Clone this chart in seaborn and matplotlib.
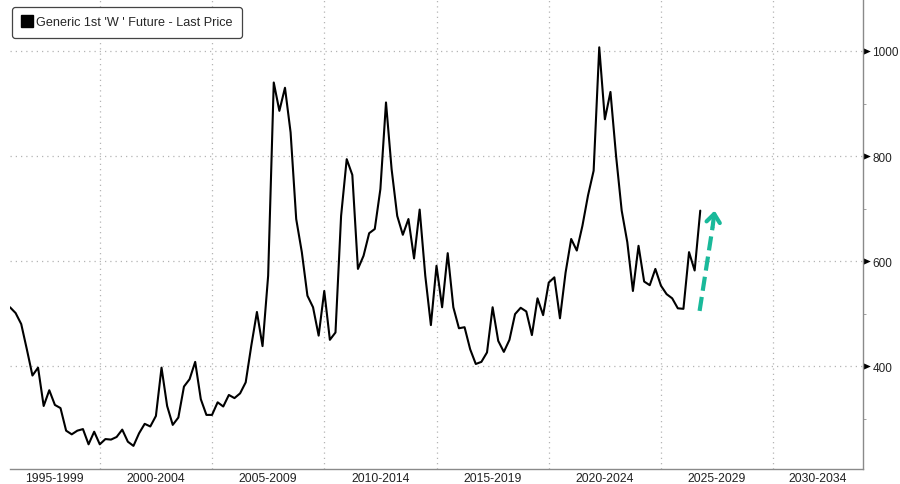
import numpy as np
import pandas as pd
import matplotlib
matplotlib.use("Agg")
import matplotlib.pyplot as plt
import seaborn as sns
from matplotlib.lines import Line2D
from matplotlib.path import Path
from matplotlib.markers import MarkerStyle
from matplotlib.transforms import Affine2D
import matplotlib.transforms as mtransforms

# ---------------- data ----------------
START_YEAR = 1996.0          # first quarterly observation
prices = [
    512, 501, 480, 432, 382, 397, 324, 354, 326, 320,
    277, 270, 277, 280, 251, 275, 251, 261, 260, 265,
    279, 256, 248, 272, 290, 285, 305, 397, 324, 288,
    302, 361, 375, 408, 337, 307, 307, 331, 323, 345,
    339, 348, 369, 439, 503, 438, 572, 940, 886, 930,
    845, 680, 617, 534, 512, 458, 543, 450, 464, 686,
    794, 764, 585, 610, 653, 661, 737, 902, 775, 686,
    650, 680, 605, 698, 572, 478, 591, 512, 615, 512,
    472, 474, 432, 404, 408, 426, 512, 448, 427, 450,
    499, 511, 504, 459, 529, 497, 559, 569, 491, 578,
    642, 620, 667, 725, 772, 1007, 870, 922, 800, 696,
    636, 543, 629, 561, 554, 585, 553, 537, 529, 510,
    509, 617, 582, 696,
]
period_labels = ["1995-1999", "2000-2004", "2005-2009", "2010-2014",
                 "2015-2019", "2020-2024", "2025-2029", "2030-2034"]
period_bounds = [1995, 2000, 2005, 2010, 2015, 2020, 2025, 2030, 2035]
y_major = [400, 600, 800, 1000]
y_minor = [300, 500, 700, 900]
legend_label = "Generic 1st 'W ' Future - Last Price"
arrow_start = (2026.72, 505)
arrow_shaft_end = (2027.30, 665)
arrow_tip = (2027.39, 696)

X_MIN, X_MAX = 1996.0, 2034.0
Y_MIN, Y_MAX = 204, 1099

years = START_YEAR + 0.25 * np.arange(len(prices))
df = pd.DataFrame({"year": years, "price": prices})

# ---------------- style ----------------
sns.set_style("white")
plt.rcParams['font.family'] = ['Liberation Sans', 'DejaVu Sans']

fig = plt.figure(figsize=(9, 4.85), dpi=100)
ax = fig.add_axes([10 / 900, 15 / 485, 853 / 900, 470 / 485])

sns.lineplot(data=df, x="year", y="price", color="black", lw=1.5,
             ax=ax, legend=False, zorder=3)

ax.set_xlim(X_MIN, X_MAX)
ax.set_ylim(Y_MIN, Y_MAX)
ax.set_xlabel("")
ax.set_ylabel("")

# grid
grid_kw = dict(color="#b4b4b4", linestyle=(0, (1, 3.2)), linewidth=0.9)
ax.set_axisbelow(True)
ax.set_xticks(period_bounds[1:-1])
ax.set_xticks(np.arange(1996, 2035), minor=True)
ax.grid(True, which="major", axis="both", **grid_kw)
ax.tick_params(axis="x", which="major", length=10, width=0.8, color="#a0a0a0",
               labelbottom=False, direction="out")
ax.tick_params(axis="x", which="minor", length=1.8, width=0.7, color="#a0a0a0",
               direction="out")

# period labels centred in each visible 5-year span
trans = mtransforms.blended_transform_factory(ax.transData, ax.transAxes)
for lab, lo, hi in zip(period_labels, period_bounds[:-1], period_bounds[1:]):
    c = (max(lo, X_MIN) + min(hi, X_MAX)) / 2
    ax.text(c, -9.5 / 470, lab, transform=trans, ha="center", va="center",
            fontsize=8.8, color="#222222")

# right y axis
ax.yaxis.tick_right()
ax.set_yticks(y_major)
ax.set_yticklabels([str(v) for v in y_major])
ax.set_yticks(y_minor, minor=True)
ax.tick_params(axis="y", which="major", length=5, width=0.8, pad=1.8,
               labelsize=8.5, labelcolor="#222222", color="black", direction="out")
ax.tick_params(axis="y", which="minor", length=2.2, width=0.7,
               color="#a0a0a0", direction="out")

tri = Path([(0, -0.45), (1, 0), (0, 0.45), (0, -0.45)],
           [Path.MOVETO, Path.LINETO, Path.LINETO, Path.CLOSEPOLY])
tri_marker = MarkerStyle(tri, transform=Affine2D().scale(2.1))
for t in ax.yaxis.get_major_ticks():
    t.tick2line.set_marker(tri_marker)
    t.tick2line.set_markerfacecolor("black")
    t.tick2line.set_markeredgecolor("black")
    t.tick2line.set_markeredgewidth(0)

for side in ["left", "top"]:
    ax.spines[side].set_visible(False)
for side in ["right", "bottom"]:
    ax.spines[side].set_color("#8a8a8a")
    ax.spines[side].set_linewidth(1.0)

# legend
handle = Line2D([], [], marker="s", color="black", linestyle="none", markersize=8.5)
leg = ax.legend([handle], [legend_label], loc="upper left",
                bbox_to_anchor=(2 / 853, 1 - 8 / 470), borderaxespad=0,
                fontsize=9.1, frameon=True, fancybox=True, framealpha=1,
                edgecolor="#444444", borderpad=0.75, handletextpad=0.35,
                handlelength=0.8)
leg.get_frame().set_linewidth(0.9)

# teal dashed arrow
teal = "#19b99a"
ax.plot([arrow_start[0], arrow_shaft_end[0]], [arrow_start[1], arrow_shaft_end[1]],
        color=teal, lw=3, linestyle=(0, (3.4, 1.5)), solid_capstyle="butt",
        dash_capstyle="butt", zorder=4)
ax.annotate("", xy=arrow_tip, xytext=arrow_shaft_end,
            arrowprops=dict(arrowstyle="->,head_length=0.6,head_width=0.48",
                            color=teal, lw=3, shrinkA=0, shrinkB=0),
            zorder=4)

fig.savefig("out.png", dpi=100)
